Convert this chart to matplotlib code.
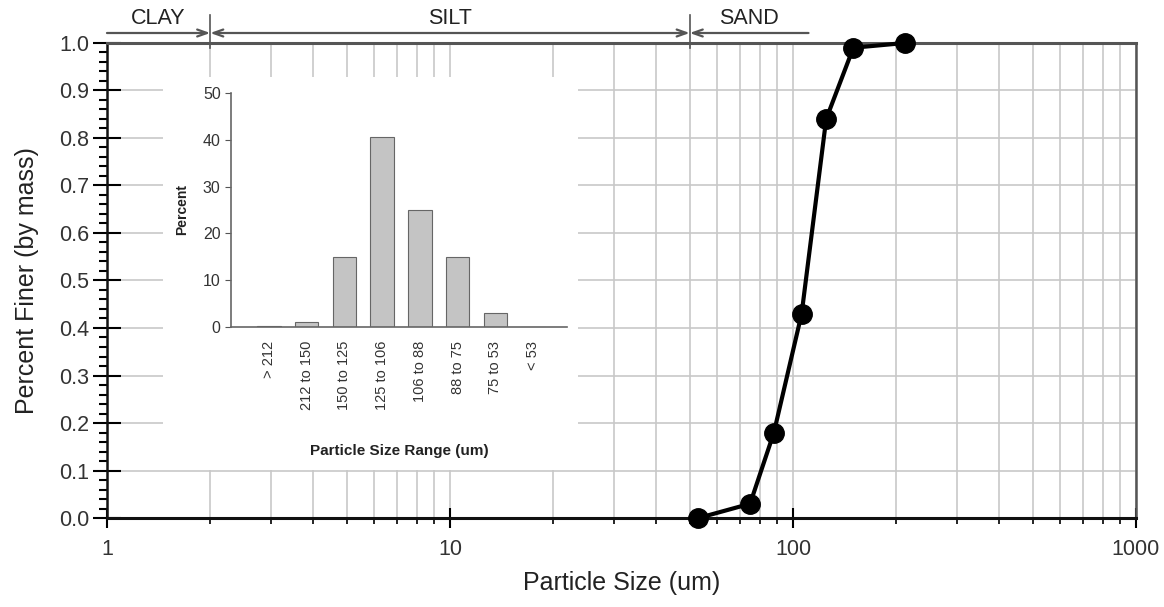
import matplotlib.pyplot as plt
from matplotlib.ticker import MultipleLocator, LogLocator, NullFormatter, FixedLocator

plt.rcParams['font.family'] = ['Liberation Sans', 'DejaVu Sans']

# cumulative curve
sizes = [53, 75, 88, 106, 125, 150, 212]
finer = [0.0, 0.03, 0.18, 0.43, 0.84, 0.99, 1.0]

# inset histogram
ranges = ['> 212', '212 to 150', '150 to 125', '125 to 106', '106 to 88', '88 to 75', '75 to 53', '< 53']
percent = [0.2, 1.0, 15.0, 40.7, 25.0, 15.0, 3.0, 0.0]

x_ticks = [1, 10, 100, 1000]
x_tick_labels = ['1', '10', '100', '1000']

# soil class bands (boundaries on the size axis)
band_names = ['CLAY', 'SILT', 'SAND']
band_edges = [1, 2, 50, 111]

fig = plt.figure(figsize=(11.64, 6.07), dpi=100)
ax = fig.add_axes([0.0919, 0.1466, 0.8840, 0.7826])

ax.set_xscale('log')
ax.set_xlim(1, 1000)
ax.set_ylim(0, 1.0)

ax.grid(True, which='both', axis='x', color='#c8c8c8', lw=1.2, zorder=0)
ax.grid(True, which='major', axis='y', color='#c8c8c8', lw=1.2, zorder=0)
ax.set_axisbelow(True)

ax.plot(sizes, finer, '-o', color='black', lw=3, ms=14, clip_on=False, zorder=5)

ax.set_xticks(x_ticks)
ax.set_xticklabels(x_tick_labels)
ax.xaxis.set_minor_locator(LogLocator(base=10, subs=range(2, 10)))
ax.xaxis.set_minor_formatter(NullFormatter())
ax.yaxis.set_major_locator(MultipleLocator(0.1))
ax.yaxis.set_minor_locator(MultipleLocator(0.02))
ax.yaxis.set_major_formatter(plt.FormatStrFormatter('%.1f'))

ax.tick_params(axis='y', which='major', direction='inout', length=20, width=1.5,
               labelsize=15.5, colors='black', pad=3)
ax.tick_params(axis='y', which='minor', direction='out', length=6, width=1.5)
ax.tick_params(axis='x', which='major', direction='inout', length=14, width=1.5,
               labelsize=15.5, pad=8)
ax.tick_params(axis='x', which='minor', direction='out', length=4, width=1.2)
for lab in ax.get_yticklabels() + ax.get_xticklabels():
    lab.set_color('#333333')

ax.spines['top'].set_color('#555555')
ax.spines['top'].set_linewidth(2.2)
ax.spines['right'].set_color('#555555')
ax.spines['right'].set_linewidth(1.8)
ax.spines['bottom'].set_color('#111111')
ax.spines['bottom'].set_linewidth(2.2)
ax.spines['left'].set_color('#111111')
ax.spines['left'].set_linewidth(1.8)

ax.set_xlabel('Particle Size (um)', fontsize=18, color='#222222', labelpad=8)
ax.set_ylabel('Percent Finer (by mass)', fontsize=18, color='#222222', labelpad=14)

# class bands above the plot
tr = ax.get_xaxis_transform()
for i, name in enumerate(band_names):
    lo, hi = band_edges[i], band_edges[i + 1]
    if i == 0:
        style = '->'
    elif i == len(band_names) - 1:
        style = '<-'
    else:
        style = '<->'
    ax.annotate('', xy=(hi, 1.021), xytext=(lo, 1.021), xycoords=tr, textcoords=tr,
                arrowprops=dict(arrowstyle=style + ',head_length=0.7,head_width=0.25',
                                color='#555555', lw=1.6, shrinkA=0, shrinkB=0),
                annotation_clip=False)
    mid = (lo * hi) ** 0.5
    ax.text(mid, 1.052, name, transform=tr, ha='center', va='center',
            fontsize=15.5, color='#222222', clip_on=False)
for b in band_edges[1:-1]:
    ax.plot([b, b], [0.99, 1.058], transform=tr, color='#555555', lw=1.2, clip_on=False)

# white area behind the inset
bg = fig.add_axes([0.140, 0.2257, 0.3566, 0.6474], zorder=2)
bg.set_facecolor('white')
bg.set_xticks([])
bg.set_yticks([])
for s in bg.spines.values():
    s.set_visible(False)

ins = fig.add_axes([0.1985, 0.4613, 0.2887, 0.3855], zorder=3)
ins.patch.set_alpha(0)
pos = list(range(len(ranges)))
ins.bar(pos, percent, width=0.62, color='#c4c4c4', edgecolor='#666666', lw=0.8)
ins.set_xlim(-1, 7.9)
ins.set_ylim(0, 50)
ins.xaxis.set_major_locator(FixedLocator(pos))
ins.set_xticklabels(ranges, rotation=90, fontsize=10.5, color='#333333')
ins.yaxis.set_major_locator(MultipleLocator(10))
ins.tick_params(axis='x', length=0, pad=10)
ins.tick_params(axis='y', direction='out', length=4, labelsize=11.5, colors='#555555',
                labelcolor='#333333')
for s in ['top', 'right']:
    ins.spines[s].set_visible(False)
for s in ['left', 'bottom']:
    ins.spines[s].set_color('#666666')
    ins.spines[s].set_linewidth(1.2)
ins.set_ylabel('Percent', fontsize=10, fontweight='bold', color='#222222', labelpad=10)
ins.set_xlabel('Particle Size Range (um)', fontsize=11, fontweight='bold',
               color='#222222', labelpad=24)

fig.savefig('out.png', dpi=100)
